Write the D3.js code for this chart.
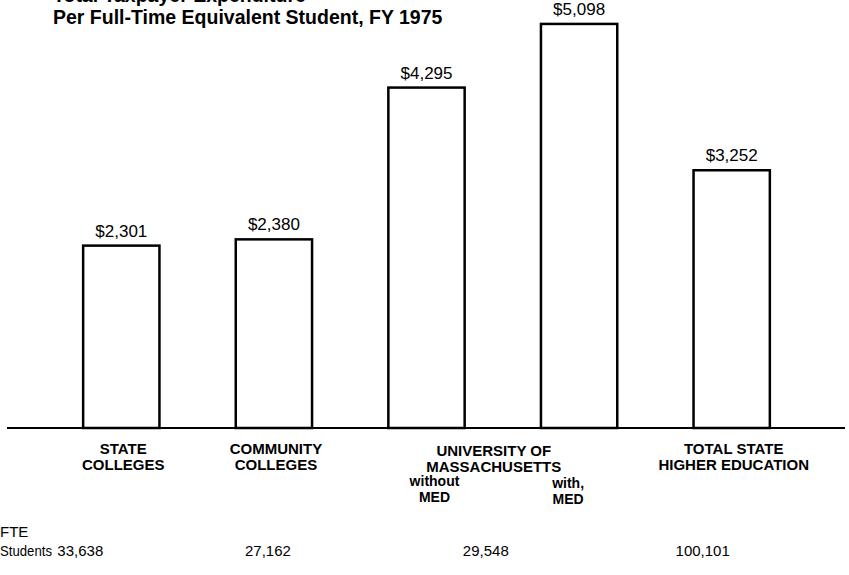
<!DOCTYPE html>
<html>
<head>
<meta charset="utf-8">
<script src="https://cdn.jsdelivr.net/npm/d3@7"></script>
<style>
  html, body { margin: 0; padding: 0; background: #fff; }
  svg { display: block; font-family: "Liberation Sans", Arial, Helvetica, sans-serif; }
  .title { font-weight: bold; font-size: 19.5px; }
  .val { font-size: 17px; }
  .cat { font-weight: bold; font-size: 15px; }
  .sub { font-weight: bold; font-size: 14px; }
  .fte { font-size: 15px; }
</style>
</head>
<body>
<div id="dataviz"></div>
<script>
"use strict";

// Data
var barKeys = ["state", "community", "umassNoMed", "umassMed", "total"];
var expenditure = [2301, 2380, 4295, 5098, 3252];

var groupLines = [
    ["STATE", "COLLEGES"],
    ["COMMUNITY", "COLLEGES"],
    ["UNIVERSITY OF", "MASSACHUSETTS"],
    ["TOTAL STATE", "HIGHER EDUCATION"]
];
var groupBars = [[0], [1], [2, 3], [4]];
var subLabels = [
    { bar: 2, lines: ["without", "MED"] },
    { bar: 3, lines: ["with,", "MED"] }
];
var fteStudents = [33638, 27162, 29548, 100101];
var titleLines = ["Total Taxpayer Expenditure", "Per Full-Time Equivalent Student, FY 1975"];

function renderChart(){

    var width = 849, height = 575;
    var baseY = 428;

    var svg = d3.select("#dataviz").append("svg")
        .attr("width", width)
        .attr("height", height);

    // Scales
    var xScale = d3.scaleBand()
        .domain(barKeys)
        .range([45, 808])
        .paddingInner(0.5)
        .paddingOuter(0.25);

    var yScale = d3.scaleLinear()
        .domain([0, 5400])
        .range([baseY, 0]);

    var fmtMoney = d3.format("$,");
    var fmtNum = d3.format(",");

    // Title (first line runs off the top, as in the scan)
    svg.selectAll("text.title")
        .data(titleLines)
        .enter().append("text")
        .attr("class", "title")
        .attr("x", 53)
        .attr("y", function (d, i) { return 2 + i * 22; })
        .text(function (d) { return d; });

    // Bars
    svg.selectAll("rect.bar")
        .data(expenditure)
        .enter().append("rect")
        .attr("class", "bar")
        .attr("x", function (d, i) { return xScale(barKeys[i]); })
        .attr("y", function (d) { return yScale(d); })
        .attr("width", xScale.bandwidth())
        .attr("height", function (d) { return baseY - yScale(d); })
        .attr("fill", "#fff")
        .attr("stroke", "#000")
        .attr("stroke-width", 2.5);

    // Value labels
    svg.selectAll("text.val")
        .data(expenditure)
        .enter().append("text")
        .attr("class", "val")
        .attr("text-anchor", "middle")
        .attr("x", function (d, i) { return xScale(barKeys[i]) + xScale.bandwidth() / 2; })
        .attr("y", function (d) { return yScale(d) - 9; })
        .text(function (d) { return fmtMoney(d); });

    // Baseline
    svg.append("line")
        .attr("x1", 7).attr("x2", 845)
        .attr("y1", baseY).attr("y2", baseY)
        .attr("stroke", "#000")
        .attr("stroke-width", 2.2);

    function groupCenter(i){
        var b = groupBars[i];
        var a = xScale(barKeys[b[0]]);
        var z = xScale(barKeys[b[b.length - 1]]) + xScale.bandwidth();
        return (a + z) / 2;
    }

    // Category labels
    var cat = svg.selectAll("g.cat")
        .data(groupLines)
        .enter().append("g")
        .attr("class", "cat");

    cat.each(function (lines, i) {
        d3.select(this).selectAll("text")
            .data(lines)
            .enter().append("text")
            .attr("class", "cat")
            .attr("text-anchor", "middle")
            .attr("x", groupCenter(i) + (i == 2 ? -9 : 2))
            .attr("y", function (d, j) { return 454 + (i == 2 ? 2 : 0) + j * 16; })
            .text(function (d) { return d; });
    });

    // without / with MED
    var shift = [8, -11];
    subLabels.forEach(function (s, k) {
        var cx = xScale(barKeys[s.bar]) + xScale.bandwidth() / 2 + shift[k];
        svg.selectAll(null)
            .data(s.lines)
            .enter().append("text")
            .attr("class", "sub")
            .attr("text-anchor", "middle")
            .attr("x", cx)
            .attr("y", function (d, j) { return 486 + k * 2 + j * 16; })
            .text(function (d) { return d; });
    });

    // FTE students row
    svg.append("text").attr("class", "fte").attr("x", 0).attr("y", 537).text("FTE");
    svg.append("text").attr("class", "fte").attr("x", 0).attr("y", 556)
        .attr("textLength", 52).attr("lengthAdjust", "spacingAndGlyphs").text("Students");

    var fteShift = [-41, -6, -17, -29];
    svg.selectAll("text.num")
        .data(fteStudents)
        .enter().append("text")
        .attr("class", "fte num")
        .attr("text-anchor", "middle")
        .attr("x", function (d, i) { return groupCenter(i) + fteShift[i]; })
        .attr("y", 556)
        .text(function (d) { return fmtNum(d); });
}

renderChart();
</script>
</body>
</html>
